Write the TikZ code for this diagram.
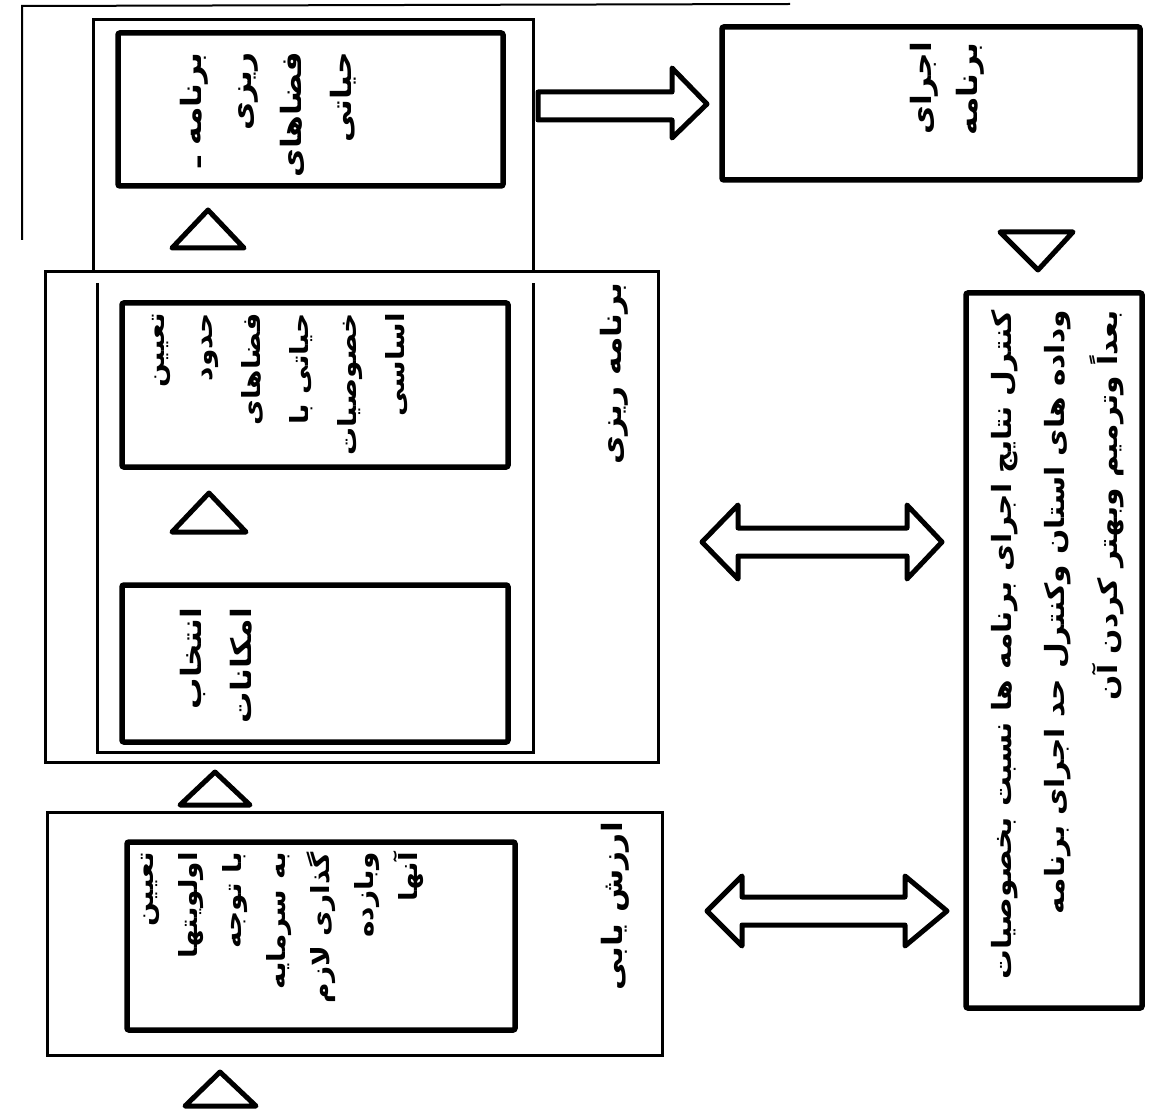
\documentclass[tikz,border=0pt]{standalone}
\usepackage{fontspec}
\newfontfamily\fa[Script=Arabic,FakeStretch=1.12]{DejaVu Sans}
\TeXXeTstate=1
\newcommand{\fl}[1]{\beginR #1\endR}
\usetikzlibrary{calc}
\begin{document}
\begin{tikzpicture}[x=1pt,y=-1pt,
  outer/.style={draw, line width=3pt},
  inner/.style={draw, line width=5.5pt, rounded corners=2pt},
  tri/.style={draw, line width=5pt, line join=round},
  barrow/.style={draw, line width=5pt, line join=round},
  txt/.style={rotate=90, anchor=north east, align=right, inner sep=0pt},
  fs/.style={font=\fa\bfseries\fontsize{28}{#1}\selectfont},
  fsc/.style={font=\fa\bfseries\fontsize{26.5}{#1}\selectfont},
  fss/.style={font=\fa\bfseries\fontsize{25}{#1}\selectfont}]
\fill[white] (0,0) rectangle (1159,1115);
\useasboundingbox (0,0) rectangle (1159,1115);

% page lines
\draw[line width=2pt] (22,240) -- (22,6) -- (790,4);

% outer frames
\draw[outer] (93,270) -- (93,20) -- (533,20) -- (533,270);
\node[outer, minimum width=613pt, minimum height=490pt, inner sep=0pt] (o2) at (351.5,517) {};
\draw[outer] (97,283) -- (97,752) -- (533,752) -- (533,283);
\node[outer, minimum width=615pt, minimum height=243pt, inner sep=0pt] (o3) at (354.5,933.5) {};

% inner boxes
\node[inner, minimum width=385pt, minimum height=153pt, inner sep=0pt] (b1) at (310.5,109.5) {};
\node[inner, minimum width=386pt, minimum height=164pt, inner sep=0pt] (b2a) at (315,385) {};
\node[inner, minimum width=386pt, minimum height=157pt, inner sep=0pt] (b2b) at (315,663.5) {};
\node[inner, minimum width=388pt, minimum height=188pt, inner sep=0pt] (b3) at (321,936) {};
\node[inner, minimum width=418pt, minimum height=153pt, inner sep=0pt] (bt) at (931,103.5) {};
\node[inner, minimum width=176pt, minimum height=715pt, inner sep=0pt] (bc) at (1054,650.5) {};

% triangles
\draw[tri] (172,248) -- (244,248) -- (208,210) -- cycle;
\draw[tri] (172,532) -- (246,532) -- (209,493) -- cycle;
\draw[tri] (180,805) -- (250,805) -- (215,772) -- cycle;
\draw[tri] (185,1106) -- (256,1106) -- (220,1072) -- cycle;
\draw[tri] (1000,232) -- (1073,232) -- (1038,270) -- cycle;

% block arrows
\coordinate (a1s) at (538,106);
\coordinate (a1t) at (707,104);
\draw[barrow] ($(a1s)+(0,-14)$) -- (672,92) -- (672,68) -- (a1t) -- (672,138) -- (672,120) -- ($(a1s)+(0,14)$) -- cycle;

\coordinate (a2l) at (702,542);
\coordinate (a2r) at (942,542);
\draw[barrow] (a2l) -- (738,505) -- (738,528) -- (907,528) -- (907,505) -- (a2r)
  -- (907,579) -- (907,556) -- (738,556) -- (738,579) -- cycle;

\coordinate (a3l) at (707,911);
\coordinate (a3r) at (947,911);
\draw[barrow] (a3l) -- (742,876) -- (742,897) -- (905,897) -- (905,876) -- (a3r)
  -- (905,946) -- (905,925) -- (742,925) -- (742,946) -- cycle;

% texts
\node[txt, fs=50] (t1) at (180,52) {\fl{برنامه ـ}\\ \fl{ریزی}\\ \fl{فضاهای}\\ \fl{حیاتی}};
\node[txt, fs=46] (tt) at (910,42) {\fl{اجرای}\\ \fl{برنامه}};
\node[txt, fss=48] (t2a) at (152,313) {\fl{تعیین}\\ \fl{حدود}\\ \fl{فضاهای}\\ \fl{حیاتی با}\\ \fl{خصوصیات}\\ \fl{اساسی}};
\node[txt, fs=50] (t2b) at (180,608) {\fl{انتخاب}\\ \fl{امکانات}};
\node[txt, fss=44] (t3) at (141,852) {\fl{تعیین}\\ \fl{اولویتها}\\ \fl{با توجه}\\ \fl{به سرمایه}\\ \fl{گذاری لازم}\\ \fl{وبازده}\\ \fl{آنها}};
\node[txt, fsc=53] (tc) at (991,310) {\fl{کنترل نتایج اجرای برنامه ها نسبت بخصوصیات}\\ \fl{وداده های استان وکنترل حد اجرای برنامه}\\ \fl{بعداً وترمیم وبهتر کردن آن}};
\node[txt, fs=30] (l2) at (600,282) {\fl{برنامه ریزی}};
\node[txt, fs=30] (l3) at (601,822) {\fl{ارزش یابی}};
\end{tikzpicture}
\end{document}
